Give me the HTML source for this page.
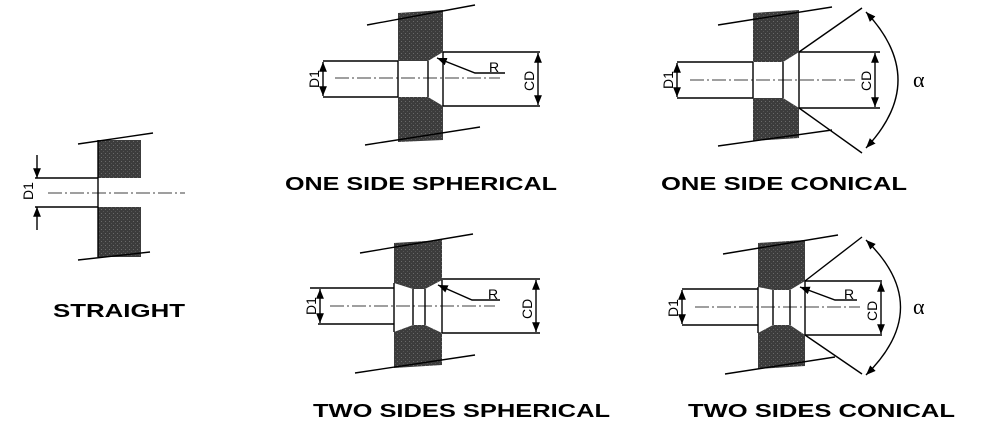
<!DOCTYPE html>
<html><head><meta charset="utf-8"><style>body{margin:0;background:#fff}svg{display:block}</style></head><body>
<svg width="989" height="435" viewBox="0 0 989 435" xmlns="http://www.w3.org/2000/svg" font-family="Liberation Sans, Arial, sans-serif">
<defs>
<marker id="a" viewBox="0 0 10 10" refX="10" refY="5" markerWidth="7" markerHeight="7" orient="auto-start-reverse"><path d="M0,1 L10,5 L0,9 z" fill="#000"/></marker>
<pattern id="g" width="4" height="4" patternUnits="userSpaceOnUse"><rect width="4" height="4" fill="#3c3c3c"/><rect x="1" y="1" width="1" height="1" fill="#6a6a6a"/><rect x="3" y="3" width="1" height="1" fill="#555"/></pattern>
</defs>
<g stroke="#000" stroke-width="1.4" fill="none">
<!-- STRAIGHT -->
<rect x="98" y="140" width="43" height="38" fill="url(#g)" stroke="none"/>
<rect x="98" y="207" width="43" height="50" fill="url(#g)" stroke="none"/>
<line x1="98" y1="140" x2="98" y2="257"/>
<line x1="78" y1="144" x2="153" y2="133"/><line x1="78" y1="260" x2="150" y2="252"/>
<line x1="35" y1="178" x2="98" y2="178"/><line x1="35" y1="207" x2="98" y2="207"/>
<line x1="37" y1="155" x2="37" y2="178" marker-end="url(#a)"/><line x1="37" y1="230" x2="37" y2="207" marker-end="url(#a)"/>
<line x1="48" y1="193" x2="185" y2="193" stroke-dasharray="14,3,2,3" stroke-width="0.8"/>

<!-- ONE SIDE SPHERICAL -->
<path d="M398,13 L443,10 L443,52 L428,61 L398,61 Z" fill="url(#g)" stroke="none"/>
<path d="M398,97 L428,97 L443,106 L443,140 L398,142 Z" fill="url(#g)" stroke="none"/>
<path d="M398,61 L398,97 M428,61 L428,97 M443,52 L443,106"/>
<line x1="367" y1="25" x2="475" y2="5"/><line x1="365" y1="145" x2="480" y2="127"/>
<line x1="323" y1="61" x2="398" y2="61"/><line x1="323" y1="97" x2="398" y2="97"/>
<line x1="323" y1="62" x2="323" y2="96" marker-start="url(#a)" marker-end="url(#a)"/>
<line x1="443" y1="52" x2="540" y2="52"/><line x1="443" y1="106" x2="540" y2="106"/>
<line x1="538" y1="53" x2="538" y2="105" marker-start="url(#a)" marker-end="url(#a)"/>
<polyline points="505,73 475,73 437,58" marker-end="url(#a)"/>
<line x1="335" y1="78" x2="500" y2="78" stroke-dasharray="14,3,2,3" stroke-width="0.8"/>

<!-- ONE SIDE CONICAL -->
<path d="M753,13 L799,10 L799,52 L783,62 L753,62 Z" fill="url(#g)" stroke="none"/>
<path d="M753,98 L783,98 L799,108 L799,138 L753,141 Z" fill="url(#g)" stroke="none"/>
<path d="M753,62 L753,98 M783,62 L783,98 M799,52 L799,108"/>
<line x1="718" y1="25" x2="832" y2="7"/><line x1="718" y1="146" x2="832" y2="130"/>
<line x1="677" y1="62" x2="753" y2="62"/><line x1="677" y1="98" x2="753" y2="98"/>
<line x1="677" y1="63" x2="677" y2="97" marker-start="url(#a)" marker-end="url(#a)"/>
<line x1="799" y1="52" x2="880" y2="52"/><line x1="799" y1="108" x2="880" y2="108"/>
<line x1="875" y1="53" x2="875" y2="107" marker-start="url(#a)" marker-end="url(#a)"/>
<line x1="799" y1="52" x2="862" y2="8"/><line x1="799" y1="108" x2="862" y2="153"/>
<path d="M866,12 Q930,80 866,148" marker-start="url(#a)" marker-end="url(#a)"/>
<line x1="690" y1="80" x2="855" y2="80" stroke-dasharray="14,3,2,3" stroke-width="0.8"/>

<!-- TWO SIDES SPHERICAL -->
<path d="M394,243 L442,240 L442,280 L425,289 L413,289 L394,283 Z" fill="url(#g)" stroke="none"/>
<path d="M394,332 L413,325 L425,325 L442,333 L442,365 L394,368 Z" fill="url(#g)" stroke="none"/>
<path d="M394,283 L394,332 M413,289 L413,325 M425,289 L425,325 M442,280 L442,333"/>
<line x1="360" y1="253" x2="473" y2="234"/><line x1="355" y1="373" x2="475" y2="355"/>
<line x1="310" y1="288" x2="394" y2="288"/><line x1="318" y1="324" x2="394" y2="324"/>
<line x1="320" y1="289" x2="320" y2="323" marker-start="url(#a)" marker-end="url(#a)"/>
<line x1="442" y1="279" x2="540" y2="279"/><line x1="442" y1="333" x2="540" y2="333"/>
<line x1="536" y1="280" x2="536" y2="332" marker-start="url(#a)" marker-end="url(#a)"/>
<polyline points="500,300 472,300 438,285" marker-end="url(#a)"/>
<line x1="330" y1="306" x2="495" y2="306" stroke-dasharray="14,3,2,3" stroke-width="0.8"/>

<!-- TWO SIDES CONICAL -->
<path d="M758,243 L805,240 L805,281 L790,290 L773,290 L758,287 Z" fill="url(#g)" stroke="none"/>
<path d="M758,333 L773,325 L790,325 L805,335 L805,366 L758,369 Z" fill="url(#g)" stroke="none"/>
<path d="M758,287 L758,333 M773,290 L773,325 M790,290 L790,325 M805,281 L805,335"/>
<line x1="723" y1="254" x2="838" y2="235"/><line x1="725" y1="374" x2="835" y2="357"/>
<line x1="682" y1="289" x2="758" y2="289"/><line x1="682" y1="325" x2="758" y2="325"/>
<line x1="682" y1="290" x2="682" y2="324" marker-start="url(#a)" marker-end="url(#a)"/>
<line x1="805" y1="281" x2="882" y2="281"/><line x1="805" y1="335" x2="882" y2="335"/>
<line x1="881" y1="282" x2="881" y2="334" marker-start="url(#a)" marker-end="url(#a)"/>
<polyline points="857,300 835,300 800,287" marker-end="url(#a)"/>
<line x1="805" y1="281" x2="862" y2="237"/><line x1="805" y1="335" x2="862" y2="374"/>
<path d="M866,240 Q935,307 866,375" marker-start="url(#a)" marker-end="url(#a)"/>
<line x1="695" y1="307" x2="860" y2="307" stroke-dasharray="14,3,2,3" stroke-width="0.8"/>
</g>
<g fill="#000" font-size="14">
<text transform="translate(33,200) rotate(-90)">D1</text>
<text transform="translate(319,88) rotate(-90)">D1</text>
<text transform="translate(534,91) rotate(-90)">CD</text>
<text x="489" y="72">R</text>
<text transform="translate(673,89) rotate(-90)">D1</text>
<text transform="translate(871,91) rotate(-90)">CD</text>
<text x="913" y="87" font-family="Liberation Serif, serif" font-size="22">α</text>
<text transform="translate(316,315) rotate(-90)">D1</text>
<text transform="translate(532,319) rotate(-90)">CD</text>
<text x="488" y="299">R</text>
<text transform="translate(678,317) rotate(-90)">D1</text>
<text transform="translate(877,321) rotate(-90)">CD</text>
<text x="844" y="299">R</text>
<text x="913" y="314" font-family="Liberation Serif, serif" font-size="22">α</text>
</g>
<g fill="#000" font-weight="bold" font-size="18">
<text x="53" y="317" textLength="132" lengthAdjust="spacingAndGlyphs">STRAIGHT</text>
<text x="285" y="190" textLength="272" lengthAdjust="spacingAndGlyphs">ONE SIDE SPHERICAL</text>
<text x="661" y="190" textLength="246" lengthAdjust="spacingAndGlyphs">ONE SIDE CONICAL</text>
<text x="313" y="417" textLength="297" lengthAdjust="spacingAndGlyphs">TWO SIDES SPHERICAL</text>
<text x="688" y="417" textLength="267" lengthAdjust="spacingAndGlyphs">TWO SIDES CONICAL</text>
</g>
</svg>
</body></html>
